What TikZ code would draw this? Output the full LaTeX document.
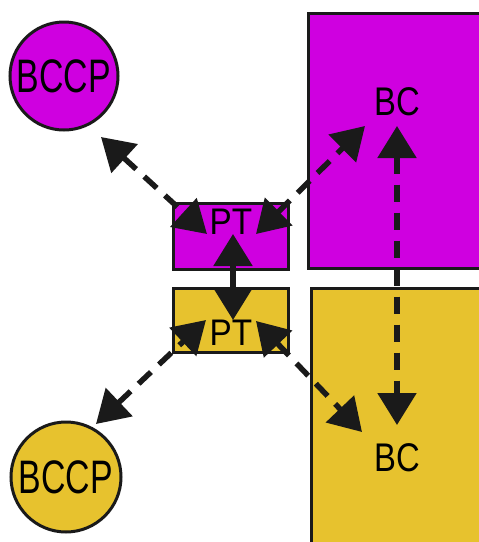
\documentclass[tikz,border=0pt]{standalone}
\usepackage{fontspec}
\setmainfont{Liberation Sans}
\usetikzlibrary{arrows.meta}
\definecolor{mag}{HTML}{CF00E0}
\definecolor{yel}{HTML}{E7C22E}
\definecolor{edge}{HTML}{1A1A1A}
\tikzset{
  box/.style={draw=edge, line width=3pt},
  lbl/.style={inner sep=0pt, text=black},
  link/.style={line width=5.5pt, draw=edge, {Triangle[length=32pt,width=38pt]}-{Triangle[length=32pt,width=38pt]}},
  dlink/.style={link, dash pattern=on 17pt off 11pt},
}
\begin{document}
\begin{tikzpicture}[x=1pt,y=-1pt]
\clip (0,0) rectangle (479,542);
% big rectangles
\filldraw[box, fill=mag] (308,13) rectangle (490,268);
\filldraw[box, fill=yel] (311,288) rectangle (490,550);
% PT rectangles
\filldraw[box, fill=mag] (173,203) rectangle (288,269);
\filldraw[box, fill=yel] (173,288) rectangle (288,352);
% circles
\node[circle, box, fill=mag, minimum size=108pt, inner sep=0pt] (bccp1) at (64,76) {};
\node[circle, box, fill=yel, minimum size=110pt, inner sep=0pt] (bccp2) at (66,477) {};
% labels
\node[lbl, font=\fontsize{47}{47}\selectfont] at (bccp1) {\scalebox{0.72}[1]{BCCP}};
\node[lbl, font=\fontsize{47}{47}\selectfont] at (bccp2) {\scalebox{0.72}[1]{BCCP}};
\node[lbl, font=\fontsize{37}{37}\selectfont] (pt1) at (231,222) {\scalebox{0.9}[1]{PT}};
\node[lbl, font=\fontsize{37}{37}\selectfont] (pt2) at (231,333) {\scalebox{0.9}[1]{PT}};
\node[lbl, font=\fontsize{40}{40}\selectfont] (bc1) at (397,102) {\scalebox{0.82}[1]{BC}};
\node[lbl, font=\fontsize{40}{40}\selectfont] (bc2) at (397,458) {\scalebox{0.82}[1]{BC}};
% arrow end points
\coordinate (a1s) at (101,137);
\coordinate (a1e) at (207,234);
\coordinate (a2s) at (256,234);
\coordinate (a2e) at (365,126);
\coordinate (a3s) at (233,234);
\coordinate (a3e) at (233,320);
\coordinate (a4s) at (96,424);
\coordinate (a4e) at (206,320);
\coordinate (a5s) at (256,321);
\coordinate (a5e) at (362,432);
\coordinate (a6s) at (397,126);
\coordinate (a6e) at (397,425);
% connectors
\draw[dlink] (a1s) -- (a1e);
\draw[dlink] (a2s) -- (a2e);
\draw[link] (a3s) -- (a3e);
\draw[dlink] (a4s) -- (a4e);
\draw[dlink] (a5s) -- (a5e);
\draw[dlink] (a6s) -- (a6e);
\end{tikzpicture}
\end{document}
